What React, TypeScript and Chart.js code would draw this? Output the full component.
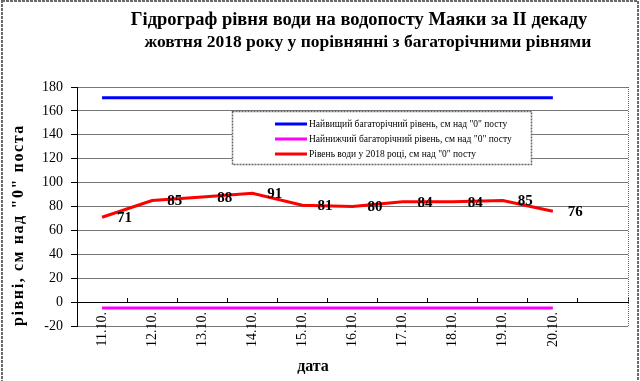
import React, { useEffect, useRef } from "react";
import { Chart, registerables } from "chart.js";

Chart.register(...registerables);

const categories = ["11.10.", "12.10.", "13.10.", "14.10.", "15.10.", "16.10.", "17.10.", "18.10.", "19.10.", "20.10.", ""];
const level2018 = [71, 85, 88, 91, 81, 80, 84, 84, 85, 76];
const maxLevel = [171, 171, 171, 171, 171, 171, 171, 171, 171, 171];
const minLevel = [-5, -5, -5, -5, -5, -5, -5, -5, -5, -5];
const yMin = -20;
const yMax = 180;
const yStep = 20;

const seriesNames = [
  "Найвищий багаторічний рівень, см над \"0\" посту",
  "Найнижчий багаторічний рівень, см над \"0\" посту",
  "Рівень води у 2018 році, см над \"0\" посту",
];
const titleLines = [
  "Гідрограф рівня води на водопосту Маяки за ІІ декаду",
  "жовтня 2018 року у порівнянні з багаторічними рівнями",
];
const yTitle = "рівні, см над \"0\" поста";
const xTitle = "дата";

const SERIF = "\"Liberation Serif\", \"Times New Roman\", serif";

const decorPlugin = {
  id: "decor",
  beforeDraw(chart: any) {
    const ctx = chart.ctx;
    ctx.save();
    ctx.fillStyle = "#ffffff";
    ctx.fillRect(0, 0, chart.width, chart.height);
    ctx.strokeStyle = "#6a6a6a";
    ctx.lineWidth = 2;
    ctx.setLineDash([3, 1]);
    ctx.strokeRect(2, 1, chart.width - 4, chart.height + 20);
    ctx.restore();
  },
  afterDatasetsDraw(chart: any) {
    const ctx = chart.ctx;
    const area = chart.chartArea;
    ctx.save();
    ctx.strokeStyle = "#666";
    ctx.lineWidth = 1;
    ctx.setLineDash([1, 1]);
    ctx.beginPath();
    ctx.moveTo(Math.round(area.right) + 0.5, area.top);
    ctx.lineTo(Math.round(area.right) + 0.5, area.bottom);
    ctx.stroke();
    ctx.setLineDash([]);

    const meta = chart.getDatasetMeta(2);
    ctx.fillStyle = "#000";
    ctx.font = "bold 15px " + SERIF;
    ctx.textAlign = "left";
    ctx.textBaseline = "middle";
    meta.data.forEach((pt: any, i: number) => {
      ctx.fillText(String(chart.data.datasets[2].data[i]), pt.x + 15, pt.y + 1);
    });
    ctx.restore();
  },
  afterDraw(chart: any) {
    const ctx = chart.ctx;
    ctx.save();
    ctx.fillStyle = "#000";
    ctx.textAlign = "center";
    ctx.textBaseline = "middle";
    ctx.font = "bold 18.5px " + SERIF;
    ctx.fillText(titleLines[0], 359, 20);
    ctx.font = "bold 17.5px " + SERIF;
    ctx.fillText(titleLines[1], 368, 42);

    ctx.font = "bold 16px " + SERIF;
    ctx.fillText(xTitle, 313, 367);
    ctx.save();
    ctx.translate(19, 225);
    ctx.rotate(-Math.PI / 2);
    (ctx as any).letterSpacing = "1.6px";
    ctx.fillText(yTitle, 0, 0);
    ctx.restore();

    const bx = 232, by = 111, bw = 299, bh = 53;
    ctx.fillStyle = "#fff";
    ctx.fillRect(bx, by, bw, bh);
    ctx.strokeStyle = "#666";
    ctx.lineWidth = 1.5;
    ctx.setLineDash([2, 1]);
    ctx.strokeRect(bx + 0.5, by + 0.5, bw, bh);
    ctx.setLineDash([]);
    ctx.font = "9.5px " + SERIF;
    ctx.textAlign = "left";
    ctx.textBaseline = "middle";
    chart.data.datasets.forEach((ds: any, i: number) => {
      const yy = by + 13 + i * 15;
      ctx.strokeStyle = ds.borderColor;
      ctx.lineWidth = 3;
      ctx.beginPath();
      ctx.moveTo(275, yy);
      ctx.lineTo(307, yy);
      ctx.stroke();
      ctx.fillStyle = "#000";
      ctx.fillText(ds.label, 309, yy);
    });
    ctx.restore();
  },
};

export default function App() {
  const ref = useRef<HTMLCanvasElement | null>(null);
  useEffect(() => {
    document.body.style.margin = "0";
    const canvas = ref.current;
    if (!canvas) return;
    const chart = new Chart(canvas, {
      type: "line",
      data: {
        labels: categories,
        datasets: [
          { label: seriesNames[0], data: maxLevel, borderColor: "#0000ff", borderWidth: 3, pointRadius: 0, fill: false },
          { label: seriesNames[1], data: minLevel, borderColor: "#ff00ff", borderWidth: 3, pointRadius: 0, fill: false },
          { label: seriesNames[2], data: level2018, borderColor: "#ff0000", borderWidth: 3, pointRadius: 0, fill: false },
        ],
      },
      options: {
        responsive: false,
        animation: false,
        devicePixelRatio: 1,
        layout: { padding: { top: 87, right: 12, bottom: 55, left: 0 } },
        plugins: { legend: { display: false }, title: { display: false }, tooltip: { enabled: false } },
        scales: {
          x: {
            type: "category",
            position: { y: 0 } as any,
            offset: true,
            grid: { offset: true, drawOnChartArea: false, drawTicks: true, tickLength: -5, tickColor: "#000", tickWidth: 1 },
            border: { display: true, color: "#000", width: 1 },
            ticks: {
              autoSkip: false,
              minRotation: 90,
              maxRotation: 90,
              padding: 15,
              color: "#000",
              font: { family: SERIF, size: 14 },
            },
          },
          y: {
            min: yMin,
            max: yMax,
            afterFit: (s: any) => { s.width = 77; },
            ticks: { stepSize: yStep, padding: 8, color: "#000", font: { family: SERIF, size: 14 } },
            grid: { color: "#777", lineWidth: 1, borderDash: [1, 1], tickLength: 6, tickColor: "#000", tickBorderDash: [], drawTicks: true },
            border: { display: true, color: "#000", width: 1 },
          },
        },
      },
      plugins: [decorPlugin],
    });
    return () => chart.destroy();
  }, []);
  return (
    <div style={{ position: "absolute", left: 0, top: 0, width: 640, height: 381 }}>
      <canvas ref={ref} width={640} height={381} style={{ width: 640, height: 381, display: "block" }} />
    </div>
  );
}
